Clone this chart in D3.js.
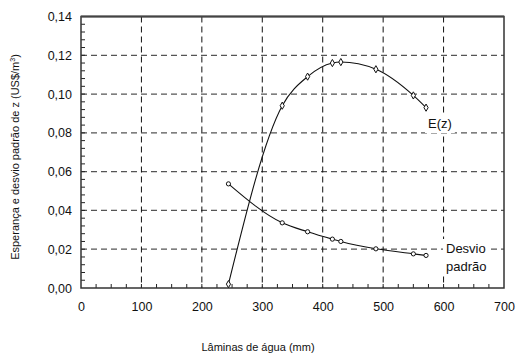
<!DOCTYPE html>
<html lang="pt">
<head>
<meta charset="UTF-8">
<title>Esperança e desvio padrão</title>
<script src="https://d3js.org/d3.v7.min.js"></script>
<style>
  body { margin: 0; background: #fff; }
  text { font-family: "Liberation Sans", Arial, sans-serif; fill: #111; }
</style>
</head>
<body>
<svg id="main" width="516" height="356"></svg>
<script>
    // values
    const laminas = [244, 333, 375, 416, 430, 488, 550, 571];
    const esperanca = [0.002, 0.094, 0.109, 0.116, 0.1165, 0.1128, 0.0993, 0.093];
    const desvio = [0.0537, 0.0336, 0.029, 0.0252, 0.0240, 0.0202, 0.0176, 0.0168];
    const xTicks = [0, 100, 200, 300, 400, 500, 600, 700];
    const yTicks = [0, 0.02, 0.04, 0.06, 0.08, 0.10, 0.12, 0.14];

    const svg = d3.select('svg#main');
    const plotL = 81, plotR = 504, plotT = 16.5, plotB = 288;

    let x = d3.scaleLinear().domain([0, 700]).range([plotL, plotR]);
    let y = d3.scaleLinear().domain([0, 0.14]).range([plotB, plotT]);

    // grid
    svg.append('g').selectAll('line')
        .data(yTicks.slice(1, -1))
        .enter().append('line')
        .attr('x1', plotL).attr('x2', plotR)
        .attr('y1', d => y(d)).attr('y2', d => y(d))
        .attr('stroke', '#555').attr('stroke-width', 1.2)
        .attr('stroke-dasharray', '6,4');
    svg.append('g').selectAll('line')
        .data(xTicks.slice(1, -1))
        .enter().append('line')
        .attr('x1', d => x(d)).attr('x2', d => x(d))
        .attr('y1', plotT).attr('y2', plotB)
        .attr('stroke', '#111').attr('stroke-width', 1)
        .attr('stroke-dasharray', '6,4');

    // minor ticks (inside)
    svg.append('g').selectAll('line')
        .data(d3.range(25, 700, 25))
        .enter().append('line')
        .attr('x1', d => x(d)).attr('x2', d => x(d))
        .attr('y1', plotB).attr('y2', plotB - 4)
        .attr('stroke', '#222');
    svg.append('g').selectAll('line')
        .data(d3.range(1, 35).map(i => i * 0.004))
        .enter().append('line')
        .attr('x1', plotL).attr('x2', plotL + 4)
        .attr('y1', d => y(d)).attr('y2', d => y(d))
        .attr('stroke', '#222');

    // frame
    svg.append('rect')
        .attr('x', plotL).attr('y', plotT)
        .attr('width', plotR - plotL).attr('height', plotB - plotT)
        .attr('fill', 'none').attr('stroke', '#333').attr('stroke-width', 1.5);
    svg.append('line')
        .attr('x1', plotL).attr('x2', plotR).attr('y1', plotT).attr('y2', plotT)
        .attr('stroke', '#444').attr('stroke-width', 2);

    // axes labels
    let xAxis = d3.axisBottom(x).tickValues(xTicks).tickSize(0).tickPadding(14)
        .tickFormat(d3.format('d'));
    svg.append('g').attr('transform', `translate(0,${plotB})`).call(xAxis)
        .call(g => g.select('.domain').remove())
        .selectAll('text').style('font-size', '12.5px');

    let yAxis = d3.axisLeft(y).tickValues(yTicks).tickSize(0).tickPadding(9)
        .tickFormat(d => d3.format('.2f')(d).replace('.', ','));
    svg.append('g').attr('transform', `translate(${plotL},0)`).call(yAxis)
        .call(g => g.select('.domain').remove())
        .selectAll('text').style('font-size', '12.5px');

    svg.append('text')
        .attr('x', 258).attr('y', 351)
        .attr('text-anchor', 'middle')
        .style('font-size', '11px')
        .text('Lâminas de água (mm)');

    let yt = svg.append('text')
        .attr('transform', 'translate(19,157) rotate(-90)')
        .attr('text-anchor', 'middle')
        .style('font-size', '11px');
    yt.append('tspan').text('Esperança e desvio padrão de z (US$/m');
    yt.append('tspan').attr('dy', -4).style('font-size', '7px').text('3');
    yt.append('tspan').attr('dy', 4).text(')');

    // series
    let pts1 = laminas.map((d, i) => [d, esperanca[i]]);
    let pts2 = laminas.map((d, i) => [d, desvio[i]]);
    let line = d3.line().x(d => x(d[0])).y(d => y(d[1])).curve(d3.curveMonotoneX);

    svg.append('path').datum(pts1).attr('d', line)
        .attr('fill', 'none').attr('stroke', '#111').attr('stroke-width', 1.1);
    svg.append('path').datum(pts2).attr('d', line)
        .attr('fill', 'none').attr('stroke', '#111').attr('stroke-width', 1.1);

    svg.append('g').selectAll('path')
        .data(pts1)
        .enter().append('path')
        .attr('d', d3.symbol().type(d3.symbolDiamond).size(15))
        .attr('transform', d => `translate(${x(d[0])},${y(d[1])})`)
        .attr('fill', '#fff').attr('stroke', '#111').attr('stroke-width', 1);

    svg.append('g').selectAll('circle')
        .data(pts2)
        .enter().append('circle')
        .attr('cx', d => x(d[0])).attr('cy', d => y(d[1]))
        .attr('r', 2.1)
        .attr('fill', '#fff').attr('stroke', '#111').attr('stroke-width', 1);

    // annotations with white background
    function label(tx, ty, lines) {
        let g = svg.append('g');
        let bg = g.append('rect').attr('fill', '#fff');
        let t = g.append('text').attr('x', tx).attr('y', ty).style('font-size', '13px');
        lines.forEach((s, i) => t.append('tspan').attr('x', tx).attr('dy', i ? 18 : 0).text(s));
        let b = t.node().getBBox();
        bg.attr('x', b.x - 3).attr('y', b.y - 2).attr('width', b.width + 6).attr('height', b.height + 4);
    }
    label(428, 128, ['E(z)']);
    label(446, 253, ['Desvio', 'padrão']);
</script>
</body>
</html>
